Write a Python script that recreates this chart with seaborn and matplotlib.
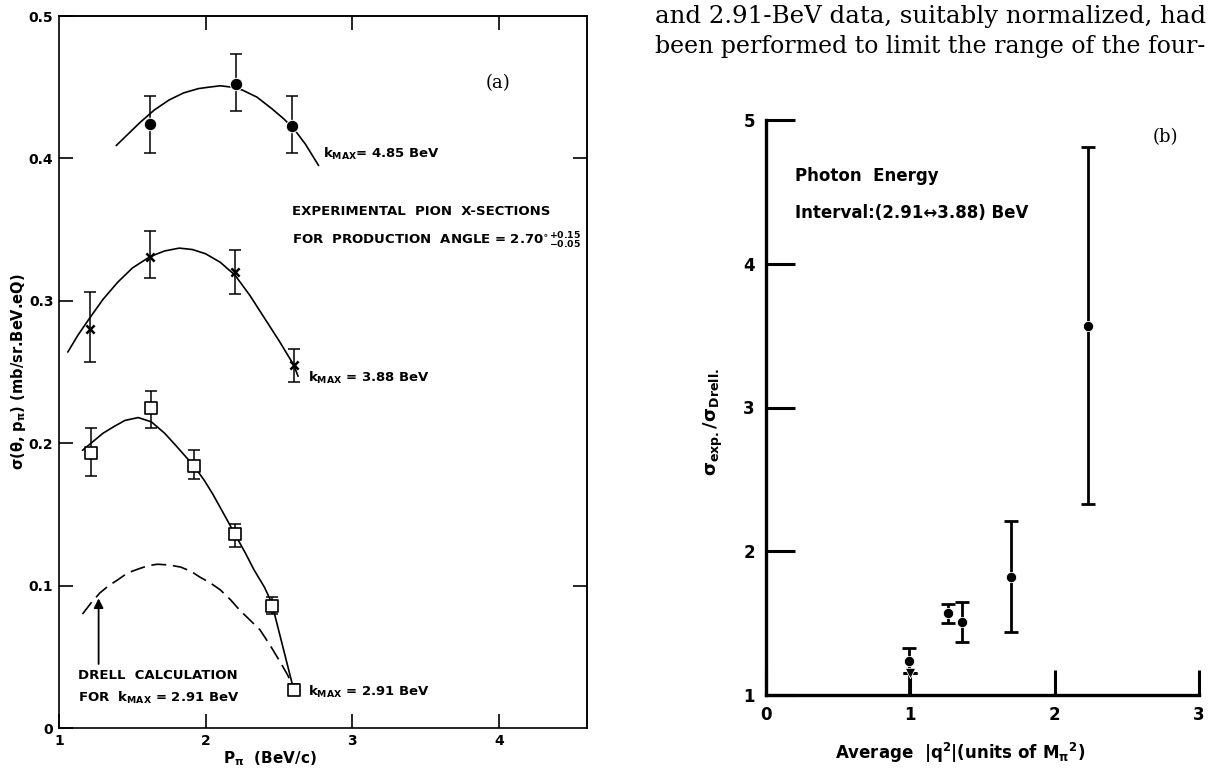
import seaborn as sns
import numpy as np
import pandas as pd
import matplotlib
matplotlib.use('Agg')
import matplotlib.pyplot as plt

# ---- panel (a): pion cross sections vs P_pi ----
# k_MAX = 4.85 BeV, filled circles
p485 = [1.62, 2.21, 2.59]
s485 = [0.424, 0.452, 0.423]
s485_lo = [0.404, 0.433, 0.404]
s485_hi = [0.444, 0.473, 0.444]
c485_x = [1.39, 1.45, 1.55, 1.65, 1.75, 1.85, 1.95, 2.02, 2.10, 2.18, 2.25, 2.35,
          2.45, 2.53, 2.60, 2.68, 2.77]
c485_y = [0.409, 0.415, 0.425, 0.434, 0.441, 0.446, 0.449, 0.450, 0.451, 0.450, 0.448, 0.443,
          0.435, 0.428, 0.421, 0.410, 0.395]

# k_MAX = 3.88 BeV, crosses
p388 = [1.21, 1.62, 2.20, 2.60]
s388 = [0.280, 0.331, 0.320, 0.255]
s388_lo = [0.257, 0.316, 0.305, 0.243]
s388_hi = [0.306, 0.349, 0.336, 0.266]
c388_x = [1.06, 1.13, 1.21, 1.30, 1.40, 1.50, 1.62, 1.72, 1.82, 1.91, 2.00, 2.10,
          2.20, 2.30, 2.40, 2.50, 2.60, 2.63]
c388_y = [0.264, 0.276, 0.288, 0.301, 0.313, 0.323, 0.331, 0.335, 0.337, 0.336, 0.333, 0.327,
          0.318, 0.304, 0.288, 0.272, 0.255, 0.247]

# k_MAX = 2.91 BeV, open squares
p291 = [1.22, 1.63, 1.92, 2.20, 2.45, 2.60]
s291 = [0.193, 0.225, 0.184, 0.136, 0.086, 0.027]
s291_lo = [0.177, 0.211, 0.175, 0.127, 0.080, 0.023]
s291_hi = [0.211, 0.237, 0.195, 0.143, 0.092, 0.031]
c291_x = [1.16, 1.23, 1.30, 1.38, 1.45, 1.54, 1.63, 1.72, 1.80, 1.86, 1.92, 1.99,
          2.05, 2.12, 2.20, 2.27, 2.33, 2.40, 2.45, 2.60]
c291_y = [0.195, 0.201, 0.207, 0.212, 0.216, 0.218, 0.215, 0.207, 0.198, 0.191, 0.184, 0.174,
          0.164, 0.151, 0.136, 0.123, 0.111, 0.099, 0.088, 0.027]

# Drell calculation (dashed)
drell_x = [1.16, 1.22, 1.28, 1.34, 1.40, 1.47, 1.55, 1.61, 1.67, 1.75, 1.83, 1.90,
           1.96, 2.03, 2.10, 2.17, 2.23, 2.30, 2.37, 2.44, 2.51, 2.56, 2.60]
drell_y = [0.080, 0.088, 0.095, 0.100, 0.104, 0.109, 0.112, 0.114, 0.115, 0.1145, 0.113, 0.110,
           0.106, 0.102, 0.097, 0.090, 0.083, 0.076, 0.069, 0.058, 0.046, 0.037, 0.028]

# ---- panel (b): ratio vs average |q^2| ----
q2 = [0.99, 1.00, 1.26, 1.36, 1.70, 2.23]
ratio = [1.24, 1.15, 1.57, 1.51, 1.82, 3.57]
ratio_lo = [1.00, 1.15, 1.50, 1.37, 1.44, 2.33]
ratio_hi = [1.33, 1.15, 1.63, 1.65, 2.21, 4.81]

text_lines = ["and 2.91-BeV data, suitably normalized, had",
              "been performed to limit the range of the four-"]

sns.set_theme(style='white')
plt.rcParams['font.family'] = ['DejaVu Sans']
plt.rcParams['mathtext.fontset'] = 'custom'
plt.rcParams['mathtext.rm'] = 'DejaVu Sans:bold'
plt.rcParams['mathtext.it'] = 'DejaVu Sans:bold'
plt.rcParams['mathtext.bf'] = 'DejaVu Sans:bold'

fig = plt.figure(figsize=(12.12, 7.68), dpi=100)
ax = fig.add_axes([59/1212, 40/768, 528/1212, 712/768])
bx = fig.add_axes([766/1212, 73/768, 433/1212, 575/768])

# ---------- panel (a) ----------
lw = 1.2
for cx, cy in [(c485_x, c485_y), (c388_x, c388_y), (c291_x, c291_y)]:
    sns.lineplot(x=cx, y=cy, ax=ax, color='black', lw=lw, sort=False, estimator=None)
sns.lineplot(x=drell_x, y=drell_y, ax=ax, color='black', lw=lw, sort=False,
             estimator=None, linestyle=(0, (9, 4)))

for px, s, lo, hi in [(p485, s485, s485_lo, s485_hi), (p388, s388, s388_lo, s388_hi),
                      (p291, s291, s291_lo, s291_hi)]:
    s = np.array(s)
    ax.errorbar(px, s, yerr=[s - np.array(lo), np.array(hi) - s], fmt='none',
                ecolor='black', elinewidth=1.1, capsize=4, capthick=1.1)

sns.scatterplot(x=p485, y=s485, ax=ax, marker='o', s=80, color='black', zorder=5)
sns.scatterplot(x=p388, y=s388, ax=ax, marker='x', s=35, color='black', linewidth=1.8, zorder=5)
sns.scatterplot(x=p291, y=s291, ax=ax, marker='s', s=75, facecolor='white',
                edgecolor='black', linewidth=1.2, zorder=5)

ax.set_xlim(1, 4.6)
ax.set_ylim(0, 0.5)
ax.set_xticks([1, 2, 3, 4])
ax.set_xticklabels(['1', '2', '3', '4'])
ax.set_yticks([0, 0.1, 0.2, 0.3, 0.4, 0.5])
ax.set_yticklabels(['0', '0.1', '0.2', '0.3', '0.4', '0.5'])
ax.tick_params(direction='in', length=10, width=1.2, pad=4, labelsize=10,
               color='black', labelcolor='black', bottom=True, left=True)
for lab in ax.get_xticklabels() + ax.get_yticklabels():
    lab.set_fontweight('bold')
for sp in ax.spines.values():
    sp.set_color('black')
    sp.set_linewidth(1.2)
top = ax.secondary_xaxis('top')
top.set_xticks([2, 3, 4])
top.set_xticklabels([])
top.tick_params(direction='in', length=10, width=1.2, color='black', top=True)
right = ax.secondary_yaxis('right')
right.set_yticks([0.1, 0.4])
right.set_yticklabels([])
right.tick_params(direction='in', length=10, width=1.2, color='black', right=True)

ax.set_xlabel(r'P$_\pi$  (BeV/c)', fontsize=11, fontweight='bold', color='black')
ax.xaxis.set_label_coords(0.40, -0.03)
ax.set_ylabel(r'σ(θ, p$_\pi$) (mb/sr.BeV.eQ)', fontsize=10.5, fontweight='bold', color='black')
ax.yaxis.set_label_coords(-0.058, 0.5)

bold = dict(fontsize=9.5, fontweight='bold', color='black')
ax.text(2.80, 0.403, r'k$_{\rm MAX}$= 4.85 BeV', va='center', **bold)
ax.text(2.70, 0.246, r'k$_{\rm MAX}$ = 3.88 BeV', va='center', **bold)
ax.text(2.70, 0.025, r'k$_{\rm MAX}$ = 2.91 BeV', va='center', **bold)
ax.text(2.59, 0.363, 'EXPERIMENTAL  PION  X-SECTIONS', va='center', **bold)
ax.text(2.59, 0.342, r'FOR  PRODUCTION  ANGLE = 2.70$^{\circ}$$^{+0.15}_{-0.05}$', va='center', **bold)
ax.text(1.13, 0.037, 'DRELL  CALCULATION', va='center', **bold)
ax.text(1.13, 0.021, r'FOR  k$_{\rm MAX}$ = 2.91 BeV', va='center', **bold)
ax.annotate('', xy=(1.27, 0.093), xytext=(1.27, 0.043),
            arrowprops=dict(arrowstyle='-|>', color='black', lw=1.3, mutation_scale=14))
ax.text(3.99, 0.453, '(a)', fontsize=13, family='DejaVu Serif', ha='center', va='center', color='black')

# ---------- panel (b) ----------
r = np.array(ratio)
bx.errorbar(q2, r, yerr=[r - np.array(ratio_lo), np.array(ratio_hi) - r], fmt='none',
            ecolor='black', elinewidth=2, capsize=5, capthick=2)
sns.scatterplot(x=q2[:1] + q2[2:], y=ratio[:1] + ratio[2:], ax=bx, marker='o', s=55,
                color='black', zorder=5)
sns.scatterplot(x=q2[1:2], y=ratio[1:2], ax=bx, marker='v', s=55, color='black', zorder=5)

bx.set_xlim(0, 3)
bx.set_ylim(1, 5)
bx.set_xticks([0, 1, 2, 3])
bx.set_xticklabels(['0', '1', '2', '3'])
bx.set_yticks([1, 2, 3, 4, 5])
bx.set_yticklabels(['1', '2', '3', '4', '5'])
bx.tick_params(axis='y', direction='in', length=21, width=2.2, pad=8, labelsize=12,
               left=True, color='black', labelcolor='black')
bx.tick_params(axis='x', direction='in', length=18, width=2.2, pad=8, labelsize=12,
               bottom=True, color='black', labelcolor='black')
for lab in bx.get_xticklabels() + bx.get_yticklabels():
    lab.set_fontweight('bold')
bx.spines['top'].set_visible(False)
bx.spines['right'].set_visible(False)
for k in ['left', 'bottom']:
    bx.spines[k].set_color('black')
    bx.spines[k].set_linewidth(2.4)

bx.set_xlabel(r'Average  |q$^2$|(units of M$_\pi$$^2$)', fontsize=12, fontweight='bold', color='black')
bx.xaxis.set_label_coords(0.448, -0.08)
bx.set_ylabel(r'σ$_{\rm exp.}$/σ$_{\rm Drell.}$', fontsize=13, fontweight='bold', color='black')
bx.yaxis.set_label_coords(-0.095, 0.475)

bx.text(0.20, 4.61, 'Photon  Energy', fontsize=12, fontweight='bold', va='center', color='black')
bx.text(0.20, 4.35, 'Interval:(2.91↔3.88) BeV', fontsize=12, fontweight='bold', va='center', color='black')
bx.text(2.77, 4.88, '(b)', fontsize=13, family='DejaVu Serif', ha='center', va='center', color='black')

# ---------- body text at top right, stretched to the column width ----------
fig.canvas.draw()
renderer = fig.canvas.get_renderer()
for i, line in enumerate(text_lines):
    t = fig.text(655/1212, 1 - (16 + 30*i)/768, line, fontsize=16, family='DejaVu Serif',
                 va='center', ha='left', color='black')
    w = t.get_window_extent(renderer).width
    t.set_fontsize(16 * 552 / w)

fig.savefig('out.png', dpi=100, facecolor='white')
